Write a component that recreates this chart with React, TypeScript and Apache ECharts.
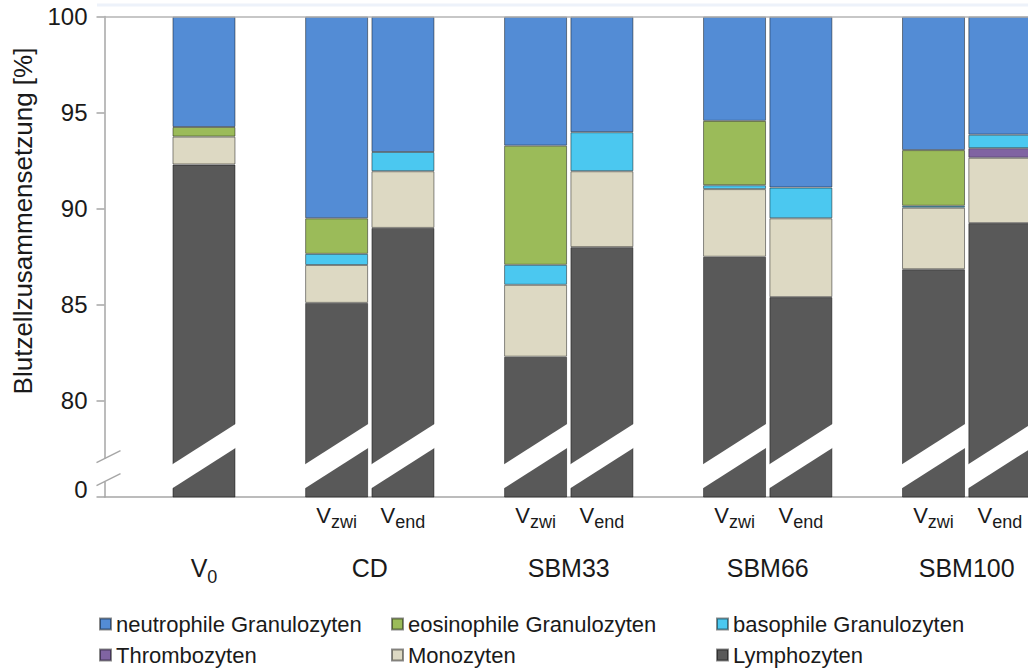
import React, { useEffect, useRef } from "react";
import * as echarts from "echarts";

// ---- data ----
const SLOTS = [
  "gap0", "V0", "gap2", "CD_zwi", "CD_end", "gap5", "SBM33_zwi", "SBM33_end",
  "gap8", "SBM66_zwi", "SBM66_end", "gap11", "SBM100_zwi", "SBM100_end",
];
// group labels on a 29-point half-slot axis
const GROUP_POINTS = Array.from({ length: 29 }, (_, i) => "p" + i);
const GROUP_LABELS: Record<number, string> = { 3: "V0", 8: "CD", 14: "SBM33", 20: "SBM66", 26: "SBM100" };

const lymphozyten = [null, 92.3, null, 85.1, 89.0, null, 82.3, 88.0, null, 87.5, 85.4, null, 86.85, 89.25];
const monozyten = [null, 1.45, null, 1.97, 2.95, null, 3.74, 3.95, null, 3.52, 4.1, null, 3.2, 3.4];
const thrombozyten = [null, null, null, null, null, null, null, null, null, null, null, null, null, 0.5];
const basophile = [null, null, null, 0.58, 1.0, null, 1.04, 2.03, null, 0.2, 1.6, null, 0.1, 0.7];
const eosinophile = [null, 0.5, null, 1.85, null, null, 6.2, null, null, 3.35, null, null, 2.9, null];
const neutrophile = [null, 5.75, null, 10.5, 7.05, null, 6.72, 6.02, null, 5.43, 8.9, null, 6.95, 6.15];

const Y_TICKS_MIN = 75; // drawn as "0" (broken axis)
const Y_MAX = 100;
const BREAK_HI = 77.75;
const BREAK_LO = 76.5;
const AXIS_BREAK_HI = 77.1;
const AXIS_BREAK_LO = 75.9;

const FONT = "'Liberation Sans', Arial, sans-serif";
const TEXT = "#1a1a1a";
const AXIS = "#a6a6a6";
const BAR_WIDTH = 63;
const SLOPE = 0.64;

const COLORS = {
  neutro: "#538cd5",
  eos: "#9bbb59",
  baso: "#4bc8f0",
  thrombo: "#8064a2",
  mono: "#ddd9c3",
  lymph: "#595959",
};

export default function App() {
  const ref = useRef<HTMLDivElement>(null);

  useEffect(() => {
    if (!ref.current) return;
    const chart = echarts.init(ref.current, undefined, { renderer: "svg" });

    const barSlots = lymphozyten
      .map((v, i) => (v == null ? -1 : i))
      .filter((i) => i >= 0);

    const barSeries = (name: string, data: (number | null)[], color: string, extra: any = {}) => ({
      name,
      type: "bar",
      stack: "total",
      barWidth: BAR_WIDTH,
      data,
      itemStyle: { color, borderColor: "rgba(0,0,0,0.45)", borderWidth: 1 },
      emphasis: { disabled: true },
      ...extra,
    });

    const legendBase = {
      orient: "vertical",
      top: 612,
      height: 56,
      padding: 0,
      itemWidth: 11,
      itemHeight: 11,
      itemGap: 7,
      icon: "rect",
      selectedMode: false,
      textStyle: { fontSize: 22, fontFamily: FONT, color: TEXT, lineHeight: 24 },
    };

    const option: any = {
      animation: false,
      backgroundColor: "#fff",
      grid: {
        left: 104.5,
        right: -5,
        top: 16.5,
        bottom: 171,
        containLabel: false,
        outerBoundsMode: "none",
      },
      legend: [
        { ...legendBase, left: 99, data: ["neutrophile Granulozyten", "Thrombozyten"] },
        { ...legendBase, left: 391, data: ["eosinophile Granulozyten", "Monozyten"] },
        { ...legendBase, left: 716, data: ["basophile Granulozyten", "Lymphozyten"] },
      ],
      xAxis: [
        {
          type: "category",
          data: SLOTS,
          axisLine: { show: true, lineStyle: { color: AXIS, width: 1.5 } },
          axisTick: { show: false },
          axisLabel: {
            interval: 0,
            margin: 7,
            color: TEXT,
            fontFamily: FONT,
            formatter: (v: string) => {
              if (v.endsWith("_zwi")) return "{v|V}{s|zwi}";
              if (v.endsWith("_end")) return "{v|V}{s|end}";
              return "";
            },
            rich: {
              v: { fontSize: 22, fontFamily: FONT, color: TEXT, verticalAlign: "bottom", padding: [0, 0, 5, 0] },
              s: { fontSize: 18, fontFamily: FONT, color: TEXT, verticalAlign: "bottom" },
            },
          },
        },
        {
          type: "category",
          data: GROUP_POINTS,
          boundaryGap: false,
          position: "bottom",
          axisLine: { show: false },
          axisTick: { show: false },
          splitLine: { show: false },
          axisLabel: {
            interval: 0,
            margin: 58,
            color: TEXT,
            fontFamily: FONT,
            fontSize: 25,
            formatter: (_v: string, i: number) => {
              const l = GROUP_LABELS[i];
              if (!l) return "";
              if (l === "V0") return "{v|V}{s|0}";
              return l;
            },
            rich: {
              v: { fontSize: 25, fontFamily: FONT, color: TEXT, verticalAlign: "bottom", padding: [0, 0, 6, 0] },
              s: { fontSize: 18, fontFamily: FONT, color: TEXT, verticalAlign: "bottom" },
            },
          },
        },
      ],
      yAxis: {
        type: "value",
        min: Y_TICKS_MIN,
        max: Y_MAX,
        interval: 5,
        axisLine: { show: true, lineStyle: { color: AXIS, width: 1.5 } },
        axisTick: { show: true, length: 8, lineStyle: { color: AXIS, width: 1.5 } },
        splitLine: { show: false },
        axisLabel: {
          margin: 17,
          color: TEXT,
          fontFamily: FONT,
          fontSize: 24,
          formatter: (v: number) => (v === Y_TICKS_MIN ? "{z|0}" : String(v)),
          rich: {
            z: { fontSize: 24, fontFamily: FONT, color: TEXT, padding: [0, 0, 16, 0] },
          },
        },
      },
      graphic: [
        {
          type: "line",
          shape: { x1: 97, y1: 5, x2: 1028, y2: 5 },
          style: { stroke: "#edf2fa", lineWidth: 3 },
          silent: true,
        },
        {
          type: "text",
          x: 23,
          y: 221,
          rotation: Math.PI / 2,
          style: {
            text: "Blutzellzusammensetzung [%]",
            fontSize: 26,
            fontFamily: FONT,
            fill: TEXT,
            align: "center",
            verticalAlign: "middle",
            textAlign: "center",
            textVerticalAlign: "middle",
          },
          silent: true,
        },
      ],
      series: [
        barSeries("Lymphozyten", lymphozyten, COLORS.lymph),
        barSeries("Monozyten", monozyten, COLORS.mono),
        barSeries("Thrombozyten", thrombozyten, COLORS.thrombo),
        barSeries("basophile Granulozyten", basophile, COLORS.baso),
        barSeries("eosinophile Granulozyten", eosinophile, COLORS.eos),
        barSeries("neutrophile Granulozyten", neutrophile, COLORS.neutro, {
          markLine: {
            silent: true,
            symbol: "none",
            label: { show: false },
            lineStyle: { color: "#b5b5b5", type: "solid", width: 1.5 },
            data: [{ yAxis: Y_MAX }],
          },
        }),
        {
          type: "custom",
          name: "break",
          z: 5,
          silent: true,
          data: barSlots.map((i) => [i, BREAK_HI, BREAK_LO]),
          renderItem: (_p: any, api: any) => {
            const i = api.value(0);
            const hi = api.coord([i, api.value(1)]);
            const lo = api.coord([i, api.value(2)]);
            const half = BAR_WIDTH / 2 + 2;
            const dy = half * SLOPE;
            return {
              type: "polygon",
              shape: {
                points: [
                  [hi[0] - half, hi[1] + dy],
                  [hi[0] + half, hi[1] - dy],
                  [hi[0] + half, lo[1] - dy],
                  [hi[0] - half, lo[1] + dy],
                ],
              },
              style: { fill: "#fff" },
            };
          },
        },
        {
          type: "custom",
          name: "axisbreak",
          z: 5,
          silent: true,
          clip: false,
          data: [[0, AXIS_BREAK_HI, AXIS_BREAK_LO]],
          renderItem: (_p: any, api: any) => {
            const c0 = api.coord([0, api.value(1)]);
            const c1 = api.coord([0, api.value(2)]);
            const L = c0[0] - api.size([1, 0])[0] / 2;
            const ls = { stroke: AXIS, lineWidth: 1.5 };
            return {
              type: "group",
              children: [
                { type: "rect", shape: { x: L - 2, y: c0[1] + 2, width: 4, height: c1[1] - c0[1] }, style: { fill: "#fff" } },
                { type: "line", shape: { x1: L - 8, y1: c0[1] + 6, x2: L + 16, y2: c0[1] - 6 }, style: ls },
                { type: "line", shape: { x1: L - 8, y1: c1[1] + 6, x2: L + 16, y2: c1[1] - 6 }, style: ls },
              ],
            };
          },
        },
      ],
    };

    chart.setOption(option);
    return () => chart.dispose();
  }, []);

  return (
    <div
      ref={ref}
      style={{ position: "fixed", left: 0, top: 0, width: 1028, height: 668, background: "#fff" }}
    />
  );
}
